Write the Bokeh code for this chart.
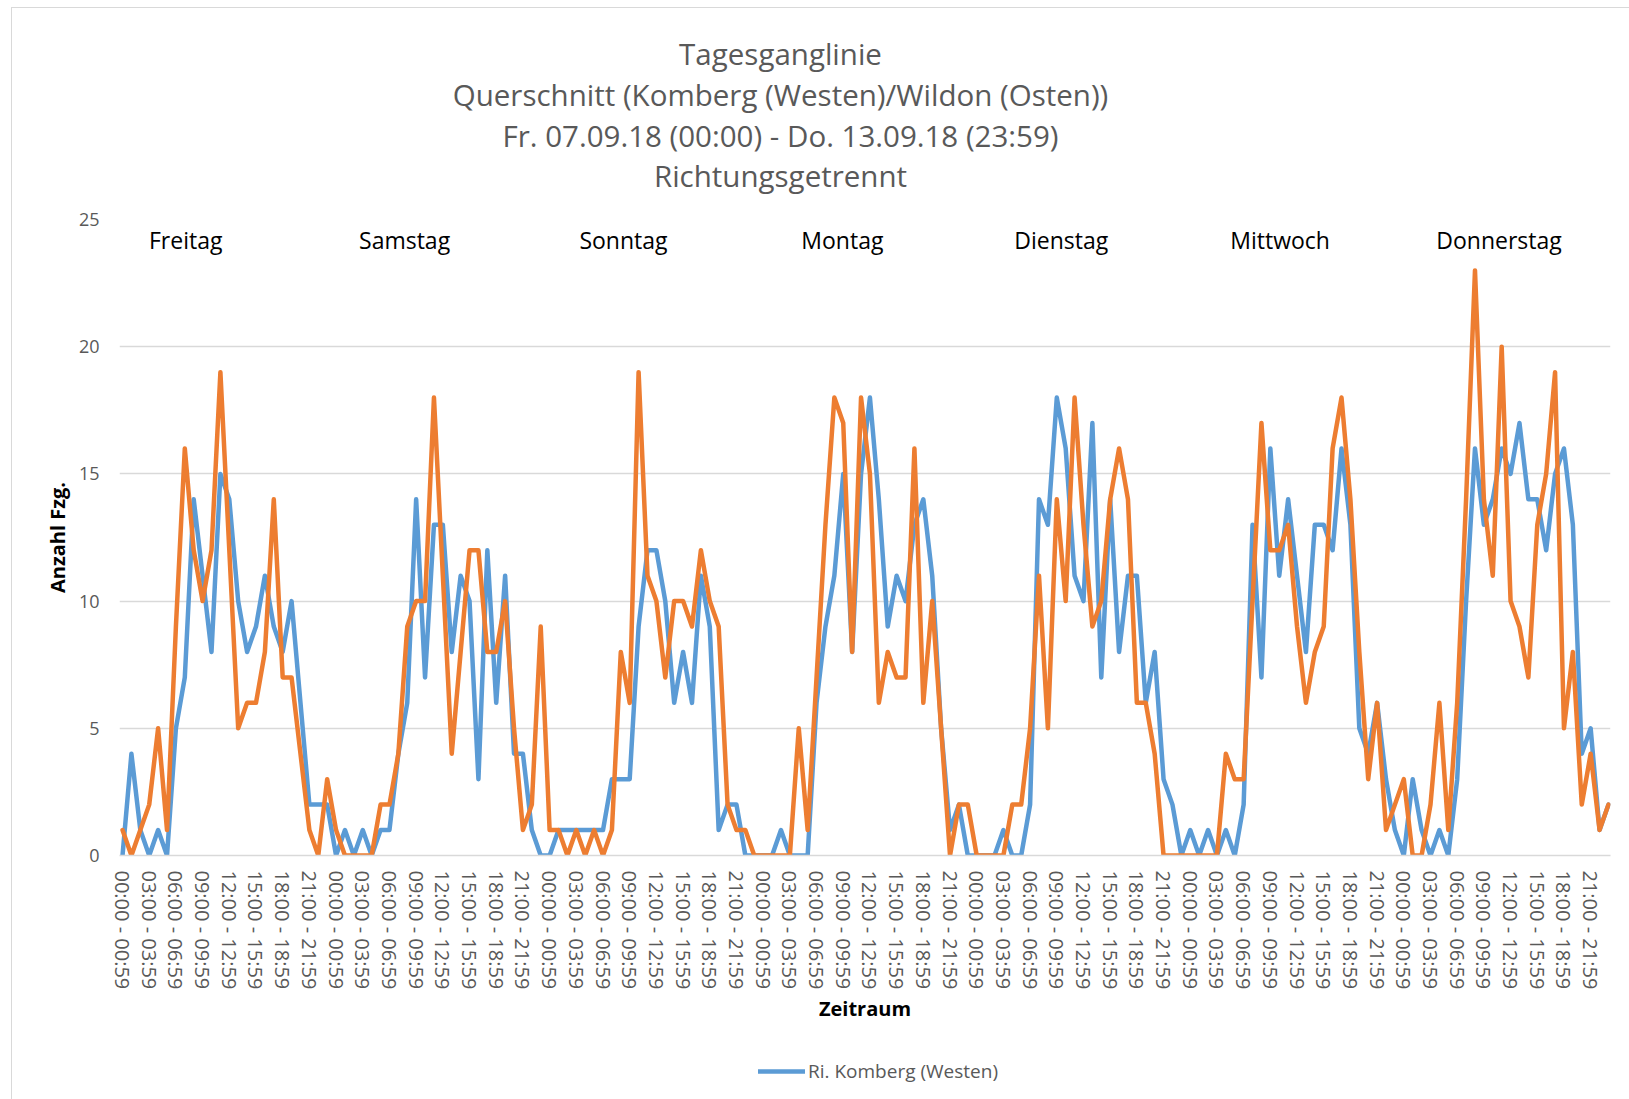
from bokeh.plotting import figure
from bokeh.layouts import column
from bokeh.models import Range1d, FixedTicker, Legend, LegendItem, ColumnDataSource
from bokeh.core.properties import value
from bokeh.embed import file_html
from bokeh.resources import INLINE

title_lines = [
    "Tagesganglinie",
    "Querschnitt (Komberg (Westen)/Wildon (Osten))",
    "Fr. 07.09.18 (00:00) - Do. 13.09.18 (23:59)",
    "Richtungsgetrennt",
]
days = ["Freitag", "Samstag", "Sonntag", "Montag", "Dienstag", "Mittwoch", "Donnerstag"]
hour_labels = ["%02d:00 - %02d:59" % (h, h) for h in range(24)]
y_ticks = [0, 5, 10, 15, 20, 25]
legend_label = "Ri. Komberg (Westen)"

# Ri. Komberg (Westen) - hourly counts per day
komberg_fr = [0, 4, 1, 0, 1, 0, 5, 7, 14, 11, 8, 15, 14, 10, 8, 9, 11, 9, 8, 10, 6, 2, 2, 2]
komberg_sa = [0, 1, 0, 1, 0, 1, 1, 4, 6, 14, 7, 13, 13, 8, 11, 10, 3, 12, 6, 11, 4, 4, 1, 0]
komberg_so = [0, 1, 1, 1, 1, 1, 1, 3, 3, 3, 9, 12, 12, 10, 6, 8, 6, 11, 9, 1, 2, 2, 0, 0]
komberg_mo = [0, 0, 1, 0, 0, 0, 6, 9, 11, 15, 8, 15, 18, 14, 9, 11, 10, 13, 14, 11, 5, 1, 2, 0]
komberg_di = [0, 0, 0, 1, 0, 0, 2, 14, 13, 18, 16, 11, 10, 17, 7, 14, 8, 11, 11, 6, 8, 3, 2, 0]
komberg_mi = [1, 0, 1, 0, 1, 0, 2, 13, 7, 16, 11, 14, 11, 8, 13, 13, 12, 16, 13, 5, 4, 6, 3, 1]
komberg_do = [0, 3, 1, 0, 1, 0, 3, 10, 16, 13, 14, 16, 15, 17, 14, 14, 12, 15, 16, 13, 4, 5, 1, 2]

# Ri. Wildon (Osten) - hourly counts per day
wildon_fr = [1, 0, 1, 2, 5, 1, 9, 16, 12, 10, 12, 19, 12, 5, 6, 6, 8, 14, 7, 7, 4, 1, 0, 3]
wildon_sa = [1, 0, 0, 0, 0, 2, 2, 4, 9, 10, 10, 18, 11, 4, 8, 12, 12, 8, 8, 10, 5, 1, 2, 9]
wildon_so = [1, 1, 0, 1, 0, 1, 0, 1, 8, 6, 19, 11, 10, 7, 10, 10, 9, 12, 10, 9, 2, 1, 1, 0]
wildon_mo = [0, 0, 0, 0, 5, 1, 7, 13, 18, 17, 8, 18, 15, 6, 8, 7, 7, 16, 6, 10, 5, 0, 2, 2]
wildon_di = [0, 0, 0, 0, 2, 2, 5, 11, 5, 14, 10, 18, 13, 9, 10, 14, 16, 14, 6, 6, 4, 0, 0, 0]
wildon_mi = [0, 0, 0, 0, 4, 3, 3, 10, 17, 12, 12, 13, 9, 6, 8, 9, 16, 18, 14, 8, 3, 6, 1, 2]
wildon_do = [3, 0, 0, 2, 6, 1, 6, 14, 23, 14, 11, 20, 10, 9, 7, 13, 15, 19, 5, 8, 2, 4, 1, 2]

komberg = komberg_fr + komberg_sa + komberg_so + komberg_mo + komberg_di + komberg_mi + komberg_do
wildon = wildon_fr + wildon_sa + wildon_so + wildon_mo + wildon_di + wildon_mi + wildon_do
n = len(komberg)
idx = list(range(n))

FONT = "Open Sans"
GREY = "#595959"
BLUE = "#5B9BD5"
ORANGE = "#ED7D31"
W = 1617
BL, BR = 107, 19                      # left / right borders shared by all three strips
H_TITLE, H_MAIN, H_LEG = 197, 825, 69


def bare(fig):
    fig.outline_line_color = None
    fig.background_fill_color = "white"
    fig.border_fill_color = "white"
    fig.grid.visible = False
    return fig


# ---------- title block (x in figure pixels) ----------
pt = bare(figure(width=W, height=H_TITLE, output_backend="svg", toolbar_location=None,
                 x_range=Range1d(BL, W - BR), y_range=Range1d(0, H_TITLE),
                 x_axis_type=None, y_axis_type=None, min_border_left=BL, min_border_right=BR,
                 min_border_top=0, min_border_bottom=0))
title_src = ColumnDataSource(dict(x=[768] * len(title_lines),
                                  y=[152 - 40.8 * i for i in range(len(title_lines))],
                                  t=title_lines))
pt.text("x", "y", text="t", source=title_src, text_align="center", text_baseline="middle",
        text_font=value(FONT), text_font_size="29.5px", text_color=GREY)

# ---------- main chart ----------
p = bare(figure(width=W, height=H_MAIN, output_backend="svg", toolbar_location=None,
                x_range=Range1d(-0.34, n - 1 + 0.23), y_range=Range1d(0, 25),
                min_border_left=BL, min_border_right=BR, min_border_top=14,
                min_border_bottom=175))
p.ygrid.visible = True
p.xgrid.visible = False
p.ygrid.ticker = FixedTicker(ticks=y_ticks)
p.ygrid.grid_line_color = "#d9d9d9"
p.ygrid.grid_line_width = 1.5

p.yaxis.ticker = FixedTicker(ticks=y_ticks)
p.yaxis.axis_line_color = None
p.yaxis.major_tick_line_color = None
p.yaxis.minor_tick_line_color = None
p.yaxis.major_label_text_font = FONT
p.yaxis.major_label_text_font_size = "18px"
p.yaxis.major_label_text_color = GREY
p.yaxis.major_label_standoff = 14
p.yaxis.axis_label = "Anzahl Fzg."
p.yaxis.axis_label_text_font = FONT
p.yaxis.axis_label_text_font_size = "20px"
p.yaxis.axis_label_text_font_style = "bold"
p.yaxis.axis_label_text_color = "black"
p.yaxis.axis_label_standoff = 5

xt = list(range(0, n, 3))
p.xaxis.ticker = FixedTicker(ticks=xt)
p.xaxis.major_label_overrides = {i: hour_labels[i % 24] for i in xt}
p.xaxis.major_label_orientation = "vertical"
p.xaxis.axis_line_color = "#d9d9d9"
p.xaxis.axis_line_width = 1.5
p.xaxis.major_tick_line_color = None
p.xaxis.minor_tick_line_color = None
p.xaxis.major_label_text_font = FONT
p.xaxis.major_label_text_font_size = "20px"
p.xaxis.major_label_text_color = GREY
p.xaxis.major_label_standoff = 9
p.xaxis.axis_label = "Zeitraum"
p.xaxis.axis_label_text_font = FONT
p.xaxis.axis_label_text_font_size = "20px"
p.xaxis.axis_label_text_font_style = "bold"
p.xaxis.axis_label_text_color = "black"
p.xaxis.axis_label_standoff = 3

src = ColumnDataSource(dict(x=idx, komberg=komberg, wildon=wildon))
p.line("x", "komberg", source=src, line_width=4.5, line_color=BLUE,
       line_join="round", line_cap="round")
p.line("x", "wildon", source=src, line_width=4.5, line_color=ORANGE,
       line_join="round", line_cap="round")

day_src = ColumnDataSource(dict(x=[7.1 + 24.6 * i for i in range(len(days))],
                                y=[24.2] * len(days), t=days))
p.text("x", "y", text="t", source=day_src, text_align="center", text_baseline="middle",
       text_font=value(FONT), text_font_size="23px", text_color="black")

# ---------- legend strip ----------
pl = bare(figure(width=W, height=H_LEG, output_backend="svg", toolbar_location=None,
                 x_range=Range1d(0, 1), y_range=Range1d(0, 1),
                 x_axis_type=None, y_axis_type=None, min_border_left=BL, min_border_right=BR,
                 min_border_top=0, min_border_bottom=0))
leg_src = ColumnDataSource(dict(x=[float("nan")], y=[float("nan")]))
r_leg = pl.line("x", "y", source=leg_src, line_width=4.5, line_color=BLUE, line_cap="round")
legend = Legend(items=[LegendItem(label=legend_label, renderers=[r_leg])],
                location=(639, 15), orientation="horizontal")
legend.border_line_color = None
legend.background_fill_alpha = 0
legend.padding = 0
legend.margin = 0
legend.glyph_width = 47
legend.glyph_height = 20
legend.label_standoff = 3
legend.label_text_font = FONT
legend.label_text_font_size = "19px"
legend.label_text_color = GREY
pl.add_layout(legend, "center")

layout = column(pt, p, pl, spacing=0)
layout.styles = {"margin-left": "11px", "margin-top": "7px",
                 "border-left": "1px solid #d9d9d9", "border-top": "1px solid #d9d9d9"}

open("out.html", "w").write(file_html(layout, INLINE))
